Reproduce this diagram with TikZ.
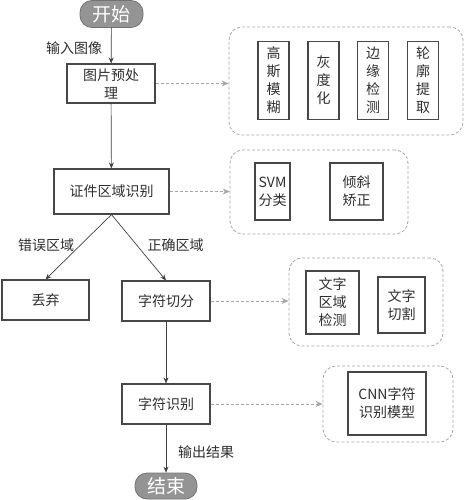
\documentclass[tikz,border=0pt]{standalone}
\usepackage{fontspec}
\setmainfont{Noto Sans CJK SC}
\usetikzlibrary{arrows.meta}
\tikzset{
  every node/.style={inner sep=0pt, font=\fontsize{14}{18}\selectfont},
  box/.style={draw=black!72, line width=1.1pt, align=center, text=black!82},
  pill/.style={draw=black!55, fill=black!42, text=white, line width=0.8pt, rounded corners=12pt, font=\fontsize{19}{22}\selectfont},
  grp/.style={draw=black!35, dashed, dash pattern=on 3pt off 2pt, rounded corners=13pt, line width=0.8pt},
  arr/.style={draw=black!75, line width=0.7pt, -{Stealth[length=6pt,width=5pt]}},
  darr/.style={draw=black!35, line width=1pt, dash pattern=on 3pt off 2pt, -{Stealth[length=7pt,width=6pt]}},
  lbl/.style={text=black!82}
}
\begin{document}
\begin{tikzpicture}[x=1pt,y=-1pt]
\useasboundingbox (0,0) rectangle (464,500);
% main flow
\node[pill, minimum width=63pt, minimum height=27pt] (start) at (111.5,14) {开始};
\node[box, minimum width=88pt, minimum height=39pt] (pre) at (111,83.5) {图片预处\\理};
\node[box, minimum width=115pt, minimum height=45pt] (idn) at (111.5,191.5) {证件区域识别};
\node[box, minimum width=87pt, minimum height=40pt] (discard) at (45.5,300) {丢弃};
\node[box, minimum width=88pt, minimum height=40pt] (seg) at (166,301) {字符切分};
\node[box, minimum width=88pt, minimum height=40pt] (rec) at (166,404) {字符识别};
\node[pill, minimum width=62pt, minimum height=26pt] (end) at (166,486) {结束};
% groups
\node[grp, minimum width=234pt, minimum height=108pt] (g1) at (346,81) {};
\node[box, minimum width=31pt, minimum height=78pt] (b11) at (273.5,80.5) {高\\斯\\模\\糊};
\node[box, minimum width=31pt, minimum height=78pt] (b12) at (323.5,80.5) {灰\\度\\化};
\node[box, minimum width=31pt, minimum height=78pt] (b13) at (373,80.5) {边\\缘\\检\\测};
\node[box, minimum width=31pt, minimum height=78pt] (b14) at (423,80.5) {轮\\廓\\提\\取};
\node[grp, minimum width=178pt, minimum height=84pt] (g2) at (319,192) {};
\node[box, minimum width=35pt, minimum height=57pt] (b21) at (272.5,191.5) {SVM\\分类};
\node[box, minimum width=53pt, minimum height=57pt] (b22) at (356.5,191.5) {倾斜\\矫正};
\node[grp, minimum width=154pt, minimum height=88pt] (g3) at (366,302) {};
\node[box, minimum width=53pt, minimum height=63pt] (b31) at (332.5,302.5) {文字\\区域\\检测};
\node[box, minimum width=47pt, minimum height=56pt] (b32) at (401.5,305) {文字\\切割};
\node[grp, minimum width=130pt, minimum height=76pt] (g4) at (388,404) {};
\node[box, minimum width=78pt, minimum height=63pt] (b41) at (387,403.5) {CNN字符\\识别模型};
% connectors
\draw[arr] (start) -- (pre);
\draw[arr] (pre) -- (idn);
\draw[arr] (idn.south) -- (discard.north);
\draw[arr] (idn.south) -- (seg.north);
\draw[arr] (seg) -- (rec);
\draw[arr] (rec) -- (end);
\draw[darr] (pre.east) -- (pre.east -| g1.west);
\draw[darr] (idn.east) -- (idn.east -| g2.west);
\draw[darr] (seg.east) -- (seg.east -| g3.west);
\draw[darr] (rec.east) -- (rec.east -| g4.west);
% labels
\node[lbl] (l1) at (74,48) {输入图像};
\node[lbl] (l2) at (46,245) {错误区域};
\node[lbl] (l3) at (175.5,245) {正确区域};
\node[lbl] (l4) at (206,452) {输出结果};
\end{tikzpicture}
\end{document}
